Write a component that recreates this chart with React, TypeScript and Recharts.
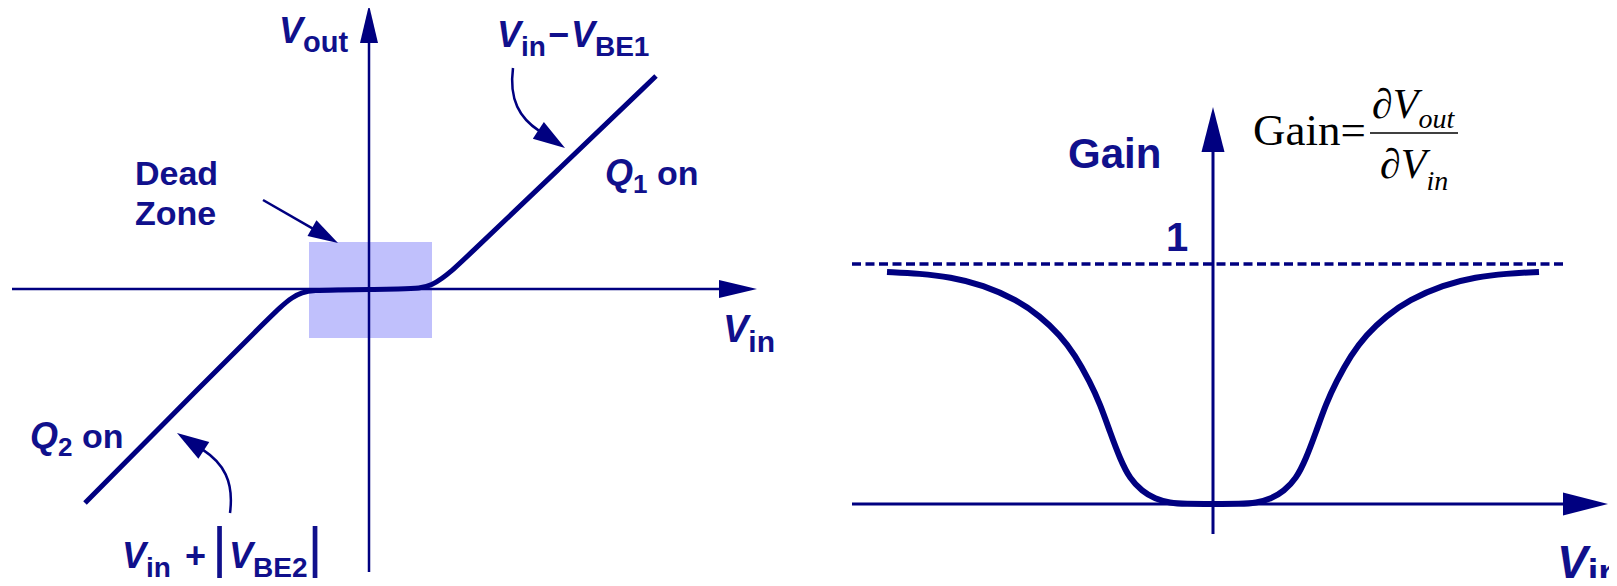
import { LineChart, Line, XAxis, YAxis, ReferenceLine, ReferenceArea, ReferenceDot } from 'recharts'

// push-pull transfer curve: Vin -> Vout (arbitrary units)
const transferVin = [-2.84, -1.62, -1.1, -0.87, -0.77, -0.67, -0.56, -0.29, 0, 0.31, 0.51, 0.63, 0.73, 0.83, 0.93, 1.91, 2.87]
const transferVout = [-2.14, -0.91, -0.39, -0.165, -0.085, -0.035, -0.013, -0.01, -0.005, 0, 0.005, 0.04, 0.105, 0.185, 0.275, 1.21, 2.13]

// small-signal gain vs Vin
const gainVin = [-3.26, -2.93, -2.63, -2.3, -1.96, -1.73, -1.53, -1.38, -1.23, -1.13, -1.03, -0.93, -0.83, -0.71, -0.58, -0.43, -0.28, 0,
  0.28, 0.43, 0.58, 0.71, 0.83, 0.93, 1.03, 1.13, 1.23, 1.38, 1.53, 1.73, 1.96, 2.3, 2.63, 2.93, 3.26]
const gainValues = [0.967, 0.96, 0.946, 0.913, 0.85, 0.783, 0.704, 0.621, 0.508, 0.417, 0.3, 0.188, 0.104, 0.054, 0.021, 0.004, 0, 0,
  0, 0.004, 0.021, 0.054, 0.104, 0.188, 0.3, 0.417, 0.508, 0.621, 0.704, 0.783, 0.85, 0.913, 0.946, 0.96, 0.967]

const unityGain = 1
const deadZone = { vin: [-0.6, 0.63], vout: [-0.49, 0.47] }

const transferData = transferVin.map((x, i) => ({ x, y: transferVout[i] }))
const gainData = gainVin.map((x, i) => ({ x, y: gainValues[i] }))

const LINE = '#000080'
const TEXT = '#10108c'
const SANS = '"Liberation Sans", Arial, sans-serif'
const SERIF = '"Liberation Serif", "Times New Roman", serif'

type Part = { t: string; size: number; italic?: boolean; dy?: number; dx?: number; weight?: string }

const textShape = (parts: Part[], family = SANS, weight = 'bold', color = TEXT) => (p: any) => (
  <text x={p.cx} y={p.cy} fill={color} fontFamily={family} fontWeight={weight}>
    {parts.map((s, i) => (
      <tspan key={i} fontSize={s.size} fontStyle={s.italic ? 'italic' : 'normal'}
        fontWeight={s.weight ?? weight} dy={s.dy ?? 0} dx={s.dx ?? 0}>{s.t}</tspan>
    ))}
  </text>
)

const arrowShape = (o: { width: number; head: number; half: number; bend?: number[] }) => (p: any) => {
  const { x1, y1, x2, y2 } = p
  if (![x1, y1, x2, y2].every(Number.isFinite)) return <g />
  const dx = x2 - x1, dy = y2 - y1
  let sx = x1, sy = y1, d = ''
  if (o.bend) {
    const c1x = x1 + o.bend[0] * dx, c1y = y1 + o.bend[1] * dy
    const c2x = x1 + o.bend[2] * dx, c2y = y1 + o.bend[3] * dy
    sx = c2x; sy = c2y
    let ux = x2 - sx, uy = y2 - sy
    const l = Math.hypot(ux, uy); ux /= l; uy /= l
    const bx = x2 - ux * o.head, by = y2 - uy * o.head
    d = `M${x1},${y1} C${c1x},${c1y} ${c2x},${c2y} ${bx + ux},${by + uy}`
  }
  let ux = x2 - sx, uy = y2 - sy
  const l = Math.hypot(ux, uy); ux /= l; uy /= l
  const bx = x2 - ux * o.head, by = y2 - uy * o.head
  if (!o.bend) d = `M${x1},${y1} L${bx + ux},${by + uy}`
  const nx = -uy * o.half, ny = ux * o.half
  return (
    <g>
      <path d={d} stroke={LINE} strokeWidth={o.width} fill="none" />
      <path d={`M${x2},${y2} L${bx + nx},${by + ny} L${bx - nx},${by - ny} Z`} fill={LINE} />
    </g>
  )
}

const leftAxisArrow = arrowShape({ width: 2.5, head: 38, half: 9 })
const rightAxisArrow = arrowShape({ width: 3, head: 45, half: 11.5 })
const pointerDown = arrowShape({ width: 2.5, head: 32, half: 10, bend: [-0.08, 0.4, 0.13, 0.625] })
const straightPointer = arrowShape({ width: 2.5, head: 30, half: 9 })

const TransferChart = () => (
  <LineChart width={800} height={586} data={transferData} margin={{ top: 0, right: 0, bottom: 0, left: 0 }}>
    <XAxis dataKey="x" type="number" domain={[-3.69, 4.31]} hide allowDataOverflow />
    <YAxis type="number" domain={[-2.97, 2.89]} hide allowDataOverflow />
    <ReferenceArea x1={deadZone.vin[0]} x2={deadZone.vin[1]} y1={deadZone.vout[0]} y2={deadZone.vout[1]}
      fill="#c0c0fc" fillOpacity={1} stroke="none" ifOverflow="visible" />
    <ReferenceLine segment={[{ x: -3.57, y: 0 }, { x: 3.88, y: 0 }]} ifOverflow="visible" shape={leftAxisArrow} />
    <ReferenceLine segment={[{ x: 0, y: -2.83 }, { x: 0, y: 2.84 }]} ifOverflow="visible" shape={leftAxisArrow} />
    <Line dataKey="y" type="basis" stroke={LINE} strokeWidth={5} dot={false} activeDot={false} isAnimationActive={false} />
    <ReferenceLine segment={[{ x: 1.44, y: 2.21 }, { x: 1.96, y: 1.41 }]} ifOverflow="visible" shape={pointerDown} />
    <ReferenceLine segment={[{ x: -1.39, y: -2.24 }, { x: -1.92, y: -1.44 }]} ifOverflow="visible" shape={pointerDown} />
    <ReferenceLine segment={[{ x: -1.06, y: 0.89 }, { x: -0.31, y: 0.46 }]} ifOverflow="visible" shape={straightPointer} />
    <ReferenceDot x={-0.9} y={2.46} r={0} ifOverflow="visible"
      shape={textShape([{ t: 'V', size: 36, italic: true }, { t: 'out', size: 29, dy: 9 }])} />
    <ReferenceDot x={1.28} y={2.42} r={0} ifOverflow="visible"
      shape={textShape([{ t: 'V', size: 36, italic: true }, { t: 'in', size: 28, dy: 9 }, { t: '−', size: 36, dy: -9, dx: 2 },
        { t: 'V', size: 36, italic: true, dx: 2 }, { t: 'BE1', size: 28, dy: 9 }])} />
    <ReferenceDot x={-2.34} y={1.04} r={0} ifOverflow="visible" shape={textShape([{ t: 'Dead', size: 34 }])} />
    <ReferenceDot x={-2.34} y={0.64} r={0} ifOverflow="visible" shape={textShape([{ t: 'Zone', size: 34 }])} />
    <ReferenceDot x={2.36} y={1.04} r={0} ifOverflow="visible"
      shape={textShape([{ t: 'Q', size: 36, italic: true }, { t: '1', size: 26, dy: 8 }, { t: ' on', size: 34, dy: -8 }])} />
    <ReferenceDot x={3.54} y={-0.53} r={0} ifOverflow="visible"
      shape={textShape([{ t: 'V', size: 38, italic: true }, { t: 'in', size: 30, dy: 10 }])} />
    <ReferenceDot x={-3.39} y={-1.59} r={0} ifOverflow="visible"
      shape={textShape([{ t: 'Q', size: 36, italic: true }, { t: '2', size: 26, dy: 8 }, { t: ' on', size: 34, dy: -8 }])} />
    <ReferenceDot x={-2.47} y={-2.79} r={0} ifOverflow="visible"
      shape={textShape([{ t: 'V', size: 36, italic: true }, { t: 'in', size: 28, dy: 9 }, { t: '+', size: 36, dy: -9, dx: 14 },
        { t: '|', size: 58, weight: 'normal', dx: 6 }, { t: 'V', size: 36, italic: true, dx: 2 }, { t: 'BE2', size: 28, dy: 9 },
        { t: '|', size: 58, weight: 'normal', dy: -9 }])} />
  </LineChart>
)

const GainChart = () => (
  <LineChart width={817} height={586} data={gainData} margin={{ top: 0, right: 0, bottom: 0, left: 0 }}>
    <XAxis dataKey="x" type="number" domain={[-4.13, 4.04]} hide allowDataOverflow />
    <YAxis type="number" domain={[-0.3417, 2.1]} hide allowDataOverflow />
    <ReferenceLine segment={[{ x: -3.61, y: unityGain }, { x: 3.53, y: unityGain }]} ifOverflow="visible"
      stroke={LINE} strokeWidth={3.3} strokeDasharray="9 4.5" />
    <ReferenceLine segment={[{ x: -3.61, y: 0 }, { x: 3.95, y: 0 }]} ifOverflow="visible" shape={rightAxisArrow} />
    <ReferenceLine segment={[{ x: 0, y: -0.125 }, { x: 0, y: 1.654 }]} ifOverflow="visible" shape={rightAxisArrow} />
    <Line dataKey="y" type="basis" stroke={LINE} strokeWidth={6} dot={false} activeDot={false} isAnimationActive={false} />
    <ReferenceDot x={-1.45} y={1.4} r={0} ifOverflow="visible" shape={textShape([{ t: 'Gain', size: 42 }])} />
    <ReferenceDot x={-0.47} y={1.054} r={0} ifOverflow="visible" shape={textShape([{ t: String(unityGain), size: 40 }])} />
    <ReferenceDot x={3.44} y={-0.308} r={0} ifOverflow="visible"
      shape={textShape([{ t: 'V', size: 46, italic: true }, { t: 'in', size: 38, dy: 8 }])} />
    <ReferenceDot x={0.4} y={1.496} r={0} ifOverflow="visible"
      shape={textShape([{ t: 'Gain=', size: 45 }], SERIF, 'normal', '#000')} />
    <ReferenceDot x={1.59} y={1.608} r={0} ifOverflow="visible"
      shape={textShape([{ t: '∂', size: 42 }, { t: 'V', size: 42, italic: true }, { t: 'out', size: 28, italic: true, dy: 10 }], SERIF, 'normal', '#000')} />
    <ReferenceDot x={1.67} y={1.358} r={0} ifOverflow="visible"
      shape={textShape([{ t: '∂', size: 42 }, { t: 'V', size: 42, italic: true }, { t: 'in', size: 28, italic: true, dy: 12 }], SERIF, 'normal', '#000')} />
    <ReferenceLine segment={[{ x: 1.57, y: 1.546 }, { x: 2.45, y: 1.546 }]} ifOverflow="visible" stroke="#000" strokeWidth={1.5} />
  </LineChart>
)

export default function App() {
  return (
    <div style={{ position: 'relative', width: 1617, height: 586, margin: -8, overflow: 'hidden', background: '#fff' }}>
      <div style={{ position: 'absolute', left: 0, top: 0 }}>
        <TransferChart />
      </div>
      <div style={{ position: 'absolute', left: 800, top: 0 }}>
        <GainChart />
      </div>
    </div>
  )
}
